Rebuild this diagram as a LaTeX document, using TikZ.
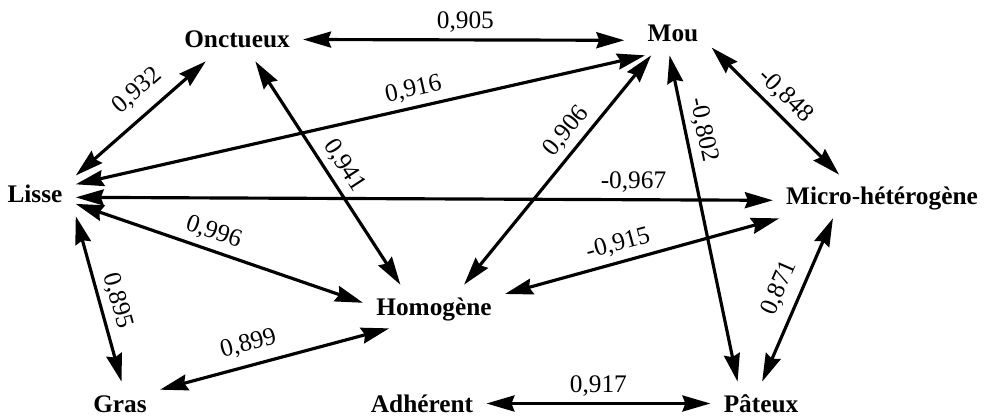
\documentclass[tikz,border=0pt]{standalone}
\usepackage{fontspec}
\setmainfont{Liberation Serif}
\usetikzlibrary{arrows.meta}

\tikzset{
    attr/.style={font=\fontsize{14.4}{17}\selectfont\bfseries, anchor=base,
        inner xsep=0.26cm, inner ysep=0.26cm, text height=0.34cm, text depth=0pt},
    link/.style={<->, line width=1.8pt},
    corr/.style={font=\fontsize{14.4}{17}\selectfont, sloped, above}
}

\begin{document}
\begin{tikzpicture}[>={Stealth[length=0.56cm, width=0.32cm, inset=0.06cm]}]
    \useasboundingbox (0,0) rectangle (19.78, 8.34);

    % attributs
    \node[attr] (onct) at (4.74, 7.38) {Onctueux};
    \node[attr] (mou) at (13.46, 7.50) {Mou};
    \node[attr] (lisse) at (0.70, 4.28) {Lisse};
    \node[attr] (micro) at (17.64, 4.24) {Micro-hétérogène};
    \node[attr] (homo) at (8.68, 2.04) {Homogène};
    \node[attr] (gras) at (2.40, 0.10) {Gras};
    \node[attr] (adh) at (8.44, 0.10) {Adhérent};
    \node[attr] (pat) at (15.22, 0.10) {Pâteux};

    % correlations
    \draw[link, shorten >=0.2cm] (onct.0) -- (mou.190) node[corr, pos=0.49] {0,905};
    \draw[link] (lisse.25) -- (onct.215) node[corr, pos=0.59, above=3pt] {0,932};
    \draw[link] (lisse.14) -- (mou.218) node[corr, pos=0.6] {0,916};
    \draw[link] (lisse.-4) -- (micro.182) node[corr, pos=0.8] {-0,967};
    \draw[link] (lisse.-13) -- (homo.177) node[corr, pos=0.46] {0,996};
    \draw[link] (lisse.-28) -- (gras.86) node[corr, pos=0.54] {0,895};
    \draw[link] (gras.19) -- (homo.206) node[corr, pos=0.41, above=2pt] {0,899};
    \draw[link] (onct.-50) -- (homo.147) node[corr, pos=0.51] {0,941};
    \draw[link] (homo.36) -- (mou.225) node[corr, pos=0.62] {0,906};
    \draw[link] (mou.-99) -- (pat.137) node[corr, pos=0.24] {-0,802};
    \draw[link] (mou.-20) -- (micro.153) node[corr, pos=0.48] {-0,848};
    \draw[link] (homo.10) -- (micro.192) node[corr, pos=0.43] {-0,915};
    \draw[link] (pat.87) -- (micro.204) node[corr, pos=0.52, above=2pt] {0,871};
    \draw[link] (adh.0) -- (pat.180) node[corr, pos=0.5] {0,917};
\end{tikzpicture}
\end{document}
